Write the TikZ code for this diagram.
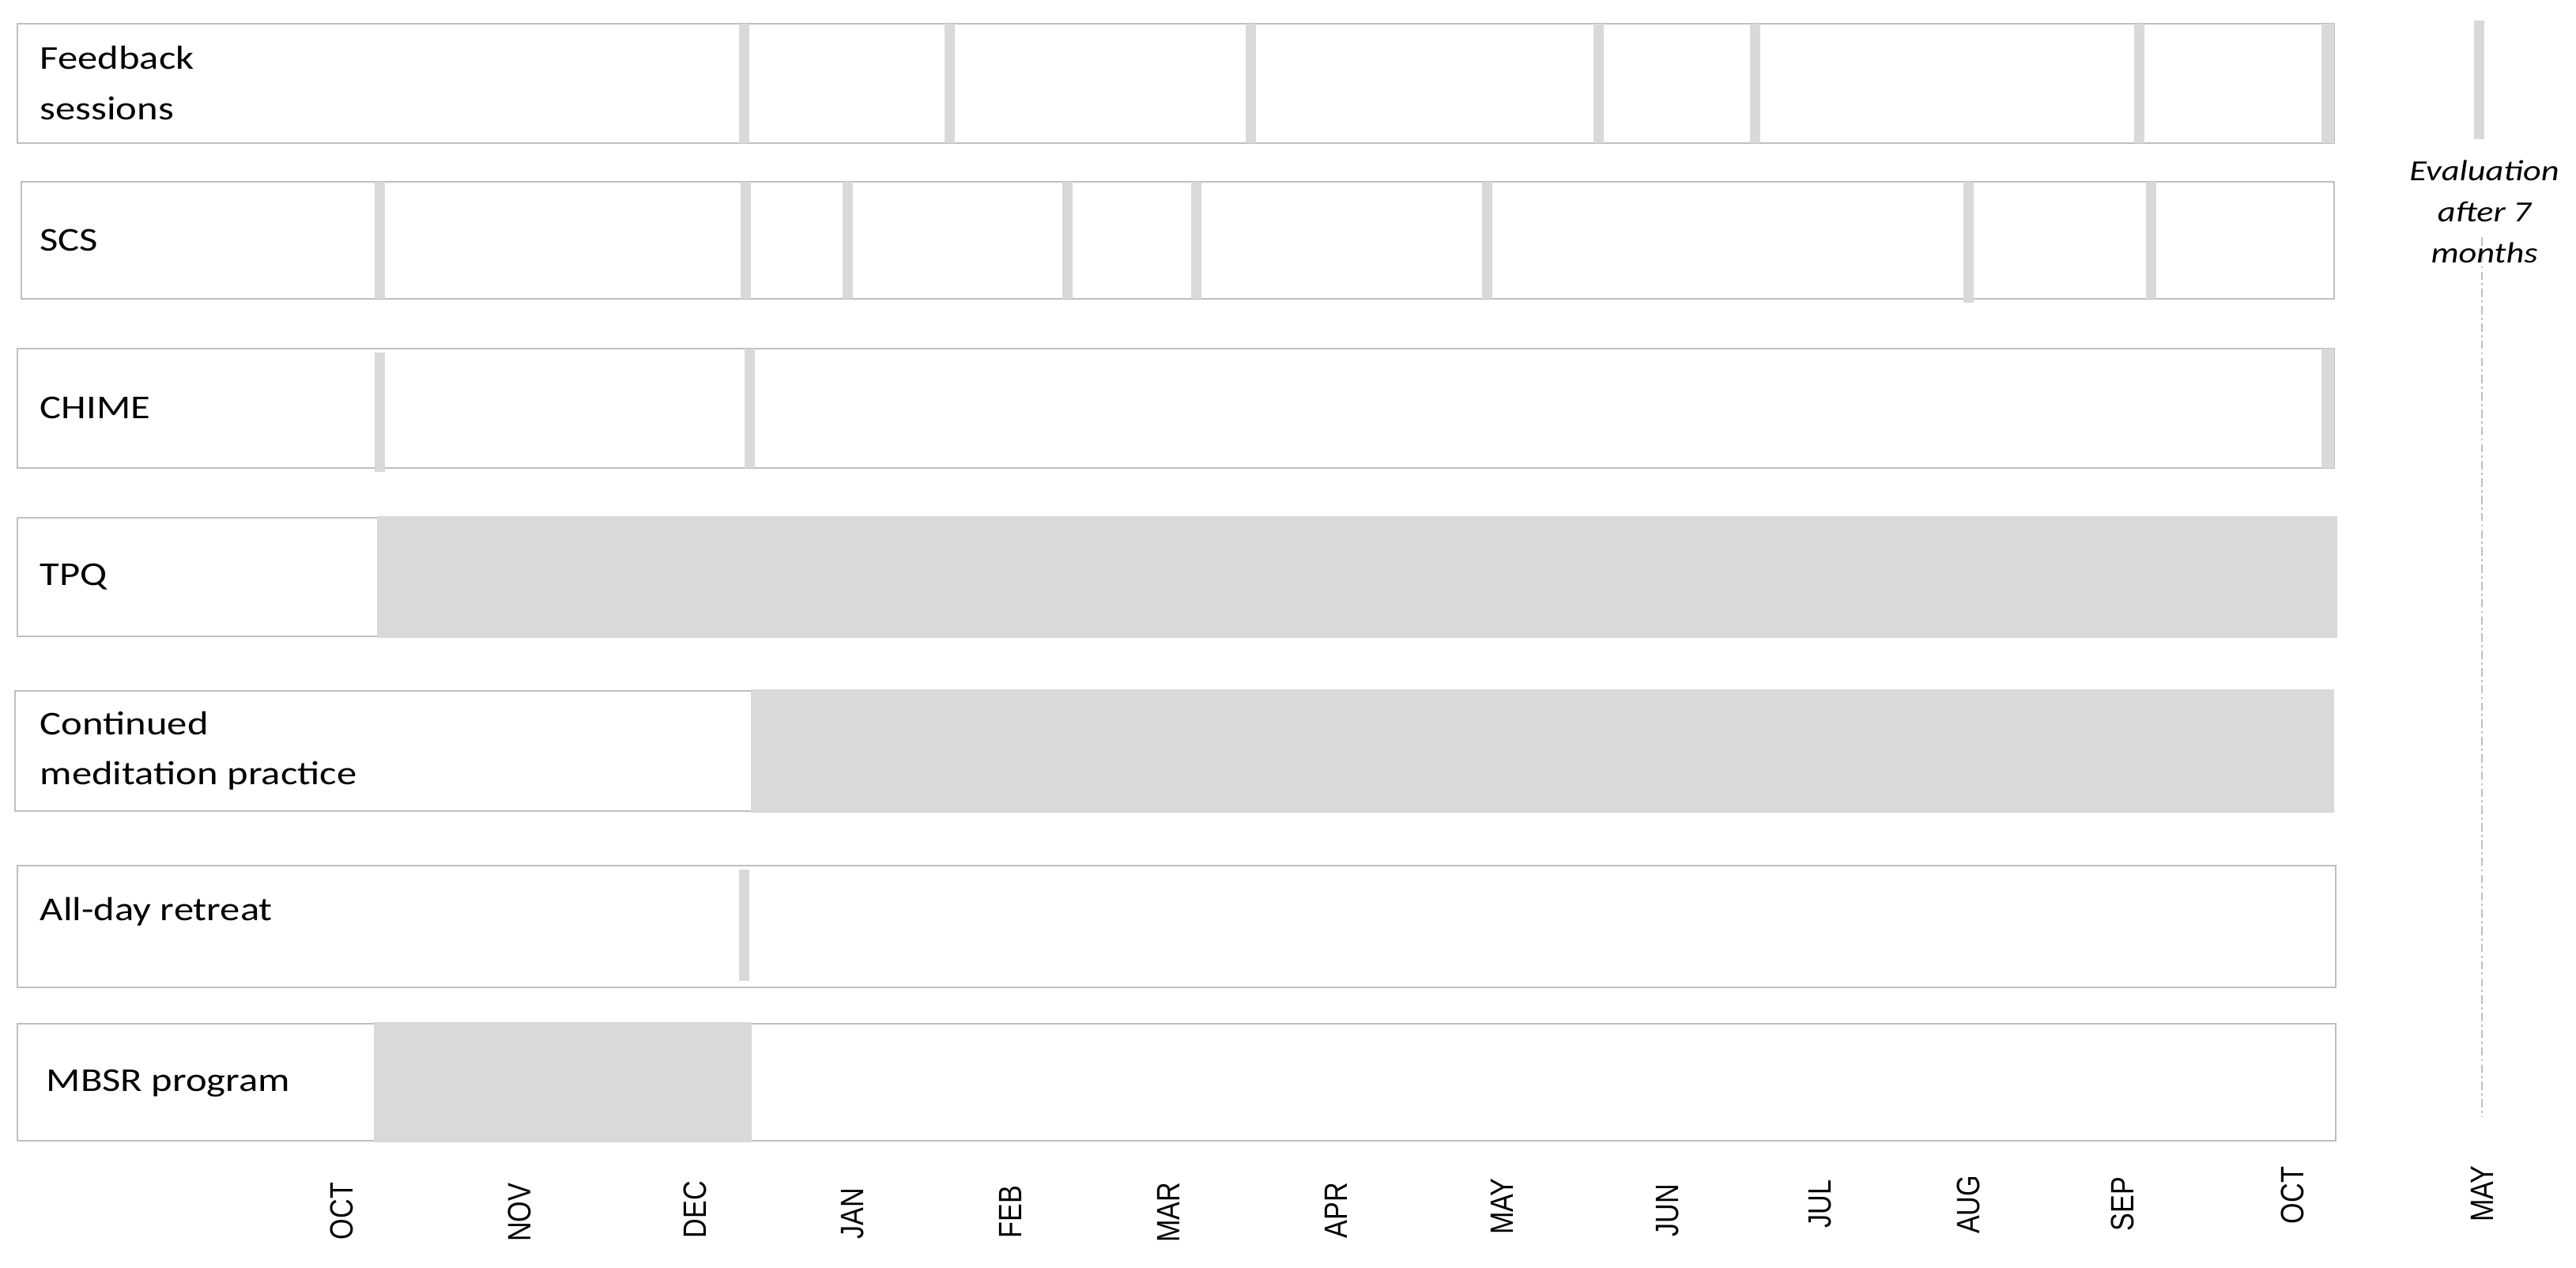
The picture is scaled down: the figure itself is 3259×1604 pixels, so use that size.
\documentclass[tikz,border=0pt]{standalone}
\usepackage{fontspec}
\setmainfont{Carlito}
\newfontfamily\labfont[FakeStretch=1.2]{Carlito}
\newfontfamily\monfont{Liberation Sans}
\definecolor{barc}{HTML}{D9D9D9}
\definecolor{edgec}{HTML}{BFBFBF}
\newcommand{\tlbar}[3]{\fill[bar] ({#1-6.5},#2) rectangle ({#1+6.5},#3);}
\begin{document}
\begin{tikzpicture}[x=0.01cm,y=-0.01cm,
  rowbox/.style={draw=edgec, line width=0.8pt, fill=white},
  bar/.style={fill=barc, draw=none},
  rowlabel/.style={anchor=west, align=left, inner sep=0pt, font=\labfont\fontsize{12}{18}\selectfont},
  evlabel/.style={align=center, inner sep=0pt, font=\labfont\itshape\fontsize{10.5}{14.8}\selectfont},
  monthlab/.style={inner sep=0pt, font=\monfont\fontsize{9.7}{11}\selectfont},
  evline/.style={draw=edgec, line width=0.6pt, dash pattern=on 3pt off 1.2pt on 0.8pt off 1.2pt}
]
\useasboundingbox[fill=white] (0,0) rectangle (3259,1604);

% Row 1: Feedback sessions
\draw[rowbox] (22,30) rectangle (2953,181);
\foreach \bx in {941,1201,1582,2022,2220,2706} {\tlbar{\bx}{30}{181}}
\fill[bar] (2937,30) rectangle (2953,181);
\node[rowlabel] (feedback) at (50,105) {Feedback\\sessions};

% Row 2: SCS
\draw[rowbox] (27,230) rectangle (2953,378);
\foreach \bx in {480,943,1072,1350,1513,1881,2721} {\tlbar{\bx}{230}{378}}
\tlbar{2490}{230}{383}
\node[rowlabel] (scs) at (50,304) {SCS};

% Row 3: CHIME
\draw[rowbox] (22,441) rectangle (2953,592);
\tlbar{480}{446}{597}
\tlbar{948}{441}{592}
\fill[bar] (2937,441) rectangle (2953,592);
\node[rowlabel] (chime) at (50,516) {CHIME};

% Row 4: TPQ
\draw[rowbox] (22,655) rectangle (2955,805);
\fill[bar] (477,653) rectangle (2957,807);
\node[rowlabel] (tpq) at (50,730) {TPQ};

% Row 5: Continued meditation practice
\draw[rowbox] (19,874) rectangle (2951,1026);
\fill[bar] (950,872) rectangle (2953,1028);
\node[rowlabel] (cmp) at (50,950) {Continued\\meditation practice};

% Row 6: All-day retreat
\draw[rowbox] (22,1095) rectangle (2955,1249);
\tlbar{941}{1100}{1241}
\node[rowlabel, anchor=base west] (retreat) at (50,1165) {All-day retreat};

% Row 7: MBSR program
\draw[rowbox] (22,1295) rectangle (2955,1443);
\fill[bar] (473,1293) rectangle (951,1445);
\node[rowlabel] (mbsr) at (58,1370) {MBSR program};

% Evaluation
\fill[bar] (3130,26) rectangle (3143,176);
\coordinate (evtop) at (3140,300);
\coordinate (evbot) at (3140,1413);
\draw[evline] (evtop) -- (evbot);
\node[evlabel] (eval) at (3143,268) {Evaluation\\after 7\\months};

% Month labels
\foreach \mx/\my/\mt/\mn in {432/1532/OCT/m1, 657/1534/NOV/m2, 879/1530/DEC/m3, 1079/1535/JAN/m4, 1278/1533/FEB/m5, 1478/1534/MAR/m6, 1690/1531/APR/m7, 1900/1526/MAY/m8, 2110/1531/JUN/m9, 2303/1523/JUL/m10, 2490/1524/AUG/m11, 2685/1523/SEP/m12, 2900/1512/OCT/m13, 3140/1510/MAY/m14}
  {\node[monthlab] (\mn) at (\mx,\my) {\scalebox{1.2}[1]{\rotatebox{90}{\mt}}};}
\end{tikzpicture}
\end{document}
